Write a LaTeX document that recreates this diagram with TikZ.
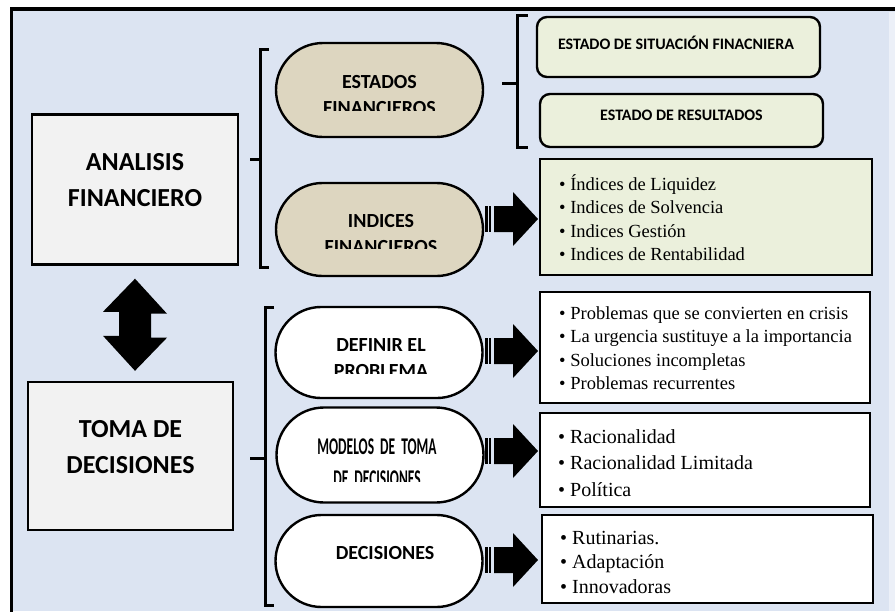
\documentclass[tikz,border=0pt]{standalone}
\usepackage{fontspec}
\setmainfont{Liberation Serif}
\newfontfamily\lblfont{Carlito}
\newfontfamily\condfont{Carlito}[FakeStretch=0.56]
\usetikzlibrary{shapes.misc,calc,positioning}
\definecolor{bgblue}{HTML}{DCE4F2}
\definecolor{boxgray}{HTML}{F2F2F2}
\definecolor{pilltan}{HTML}{DDD6C0}
\definecolor{palegreen}{HTML}{EBF0DC}
\tikzset{
  mainbox/.style={draw, line width=2.4pt, fill=boxgray, minimum width=206pt, minimum height=150pt, inner sep=0pt},
  pill/.style={draw, line width=2.4pt, rounded rectangle, minimum width=207pt, minimum height=93pt, inner sep=0pt},
  listbox/.style={draw, line width=2.4pt, inner sep=0pt},
  bigtxt/.style={font=\lblfont\bfseries\fontsize{26}{36}\selectfont, align=center, inner sep=0pt},
  pilltxt/.style={font=\lblfont\bfseries\fontsize{20}{26}\selectfont, align=center, inner sep=0pt},
  headtxt/.style={font=\lblfont\bfseries\fontsize{16}{20}\selectfont, inner sep=0pt},
  listtxt/.style={align=left, inner sep=0pt, anchor=west},
  brace/.style={line width=3pt},
}

\begin{document}
\begin{tikzpicture}[x=1pt, y=-1pt]
  \useasboundingbox (0,0) rectangle (895,614);
  % Background panel
  \fill[white] (0,0) rectangle (895,614);
  \fill[bgblue] (11,9) rectangle (895,611);
  \fill[bgblue!55!white] (889,12) rectangle (895,611);
  \draw[line width=3.5pt] (10,9) -- (895,9);
  \draw[line width=3pt] (11,9) -- (11,612);

  % Main boxes
  \node[mainbox] (analisis) at (135,189.5) {};
  \node[bigtxt] (analisisT) at ($(analisis.center)+(0,-9)$) {ANALISIS\\FINANCIERO};
  \node[mainbox, minimum width=205pt, minimum height=148pt] (toma) at (130.5,456) {};
  \node[bigtxt] (tomaT) at ($(toma.center)+(0,-9)$) {TOMA DE\\DECISIONES};

  % Double arrow
  \coordinate (up) at ($(analisis.south)+(0,13)$);
  \coordinate (dn) at ($(toma.north)+(4.5,-10)$);
  \fill (up) -- ++(32,35) -- ++(-16,0) -- ++(0,24) -- ++(16,0) -- (dn)
        -- ++(-32,-35) -- ++(16,0) -- ++(0,-24) -- ++(-16,0) -- cycle;

  % Brackets
  \draw[brace] (269,49) -- (260,49) -- (260,267) -- (269,267);
  \draw[brace] (250,159) -- (260,159);
  \draw[brace] (274,307) -- (265,307) -- (265,605) -- (274,605);
  \draw[brace] (250,458) -- (265,458);
  \draw[brace] (528,15) -- (517,15) -- (517,147) -- (528,147);
  \draw[brace] (502,83) -- (517,83);

  % Pills
  \node[pill, fill=pilltan, minimum height=94pt] (estfin) at (379.5,90) {};
  \node[pill, fill=pilltan] (indfin) at (379.5,229.5) {};
  \node[pill, fill=white, minimum height=91pt] (defprob) at (379,352.5) {};
  \node[pill, fill=white, minimum height=95pt] (modtoma) at (380,455) {};
  \node[pill, fill=white, minimum height=92pt] (decis) at (379,561) {};

  \begin{scope}
    \clip (270,0) rectangle (490,110);
    \node[pilltxt] (estfinT) at (379.5,95.5) {ESTADOS\\FINANCIEROS};
  \end{scope}
  \begin{scope}
    \clip (270,190) rectangle (490,248);
    \node[pilltxt] (indfinT) at (381,234) {INDICES\\FINANCIEROS};
  \end{scope}
  \begin{scope}
    \clip (270,320) rectangle (490,373);
    \node[pilltxt] (defprobT) at (381,358.5) {DEFINIR EL\\PROBLEMA};
  \end{scope}
  \begin{scope}
    \clip (270,420) rectangle (490,481);
    \node[pilltxt, font=\condfont\bfseries\fontsize{24}{32}\selectfont] (modtomaT) at (377,463) {MODELOS\ \ DE\ \ TOMA\\DE\ \ DECISIONES};
  \end{scope}
  \node[pilltxt] (decisT) at (385,553) {DECISIONES};

  % Right boxes
  \node[listbox, fill=palegreen, rounded corners=10pt, minimum width=283pt, minimum height=60pt] (estsit) at (678.5,47) {};
  \node[headtxt] (estsitT) at (676,43) {ESTADO DE SITUACIÓN FINACNIERA};
  \node[listbox, fill=palegreen, rounded corners=10pt, minimum width=283pt, minimum height=53pt] (estres) at (681.5,120.5) {};
  \node[headtxt] (estresT) at (681.5,115) {ESTADO DE RESULTADOS};

  \node[listbox, fill=palegreen, minimum width=332pt, minimum height=116pt] (indbox) at (706,217) {};
  \node[listtxt, font=\fontsize{18.5}{23.5}\selectfont] (indT) at (559,217.5)
    {\textbullet\ Índices de Liquidez\\\textbullet\ Indices de Solvencia\\\textbullet\ Indices Gestión\\\textbullet\ Indices de Rentabilidad};
  \node[listbox, fill=white, minimum width=330pt, minimum height=111pt] (probbox) at (705,347.5) {};
  \node[listtxt, font=\fontsize{18.5}{23.5}\selectfont] (probT) at (559,348)
    {\textbullet\ Problemas que se convierten en crisis\\\textbullet\ La urgencia sustituye a la importancia\\\textbullet\ Soluciones incompletas\\\textbullet\ Problemas recurrentes};
  \node[listbox, fill=white, minimum width=330pt, minimum height=94pt] (modbox) at (705,460) {};
  \node[listtxt, font=\fontsize{20}{26.5}\selectfont] (modT) at (558,463)
    {\textbullet\ Racionalidad\\\textbullet\ Racionalidad Limitada\\\textbullet\ Política};
  \node[listbox, fill=white, minimum width=331pt, minimum height=88pt] (decbox) at (707.5,559) {};
  \node[listtxt, font=\fontsize{20}{24.5}\selectfont] (decT) at (560,562)
    {\textbullet\ Rutinarias.\\\textbullet\ Adaptación\\\textbullet\ Innovadoras};

  % Striped block arrows
  \foreach \dst/\yy in {indbox/219, probbox/351, modbox/451, decbox/560}{
    \coordinate (tip) at (538,\yy);
    \fill (tip) -- ++(-25,27) -- ++(0,-14) -- ++(-19,0) -- ++(0,-26) -- ++(19,0) -- ++(0,-14) -- cycle;
    \fill ($(tip)+(-53,-13)$) rectangle ++(2.5,26);
    \fill ($(tip)+(-49,-13)$) rectangle ++(2,26);
  }
\end{tikzpicture}
\end{document}
